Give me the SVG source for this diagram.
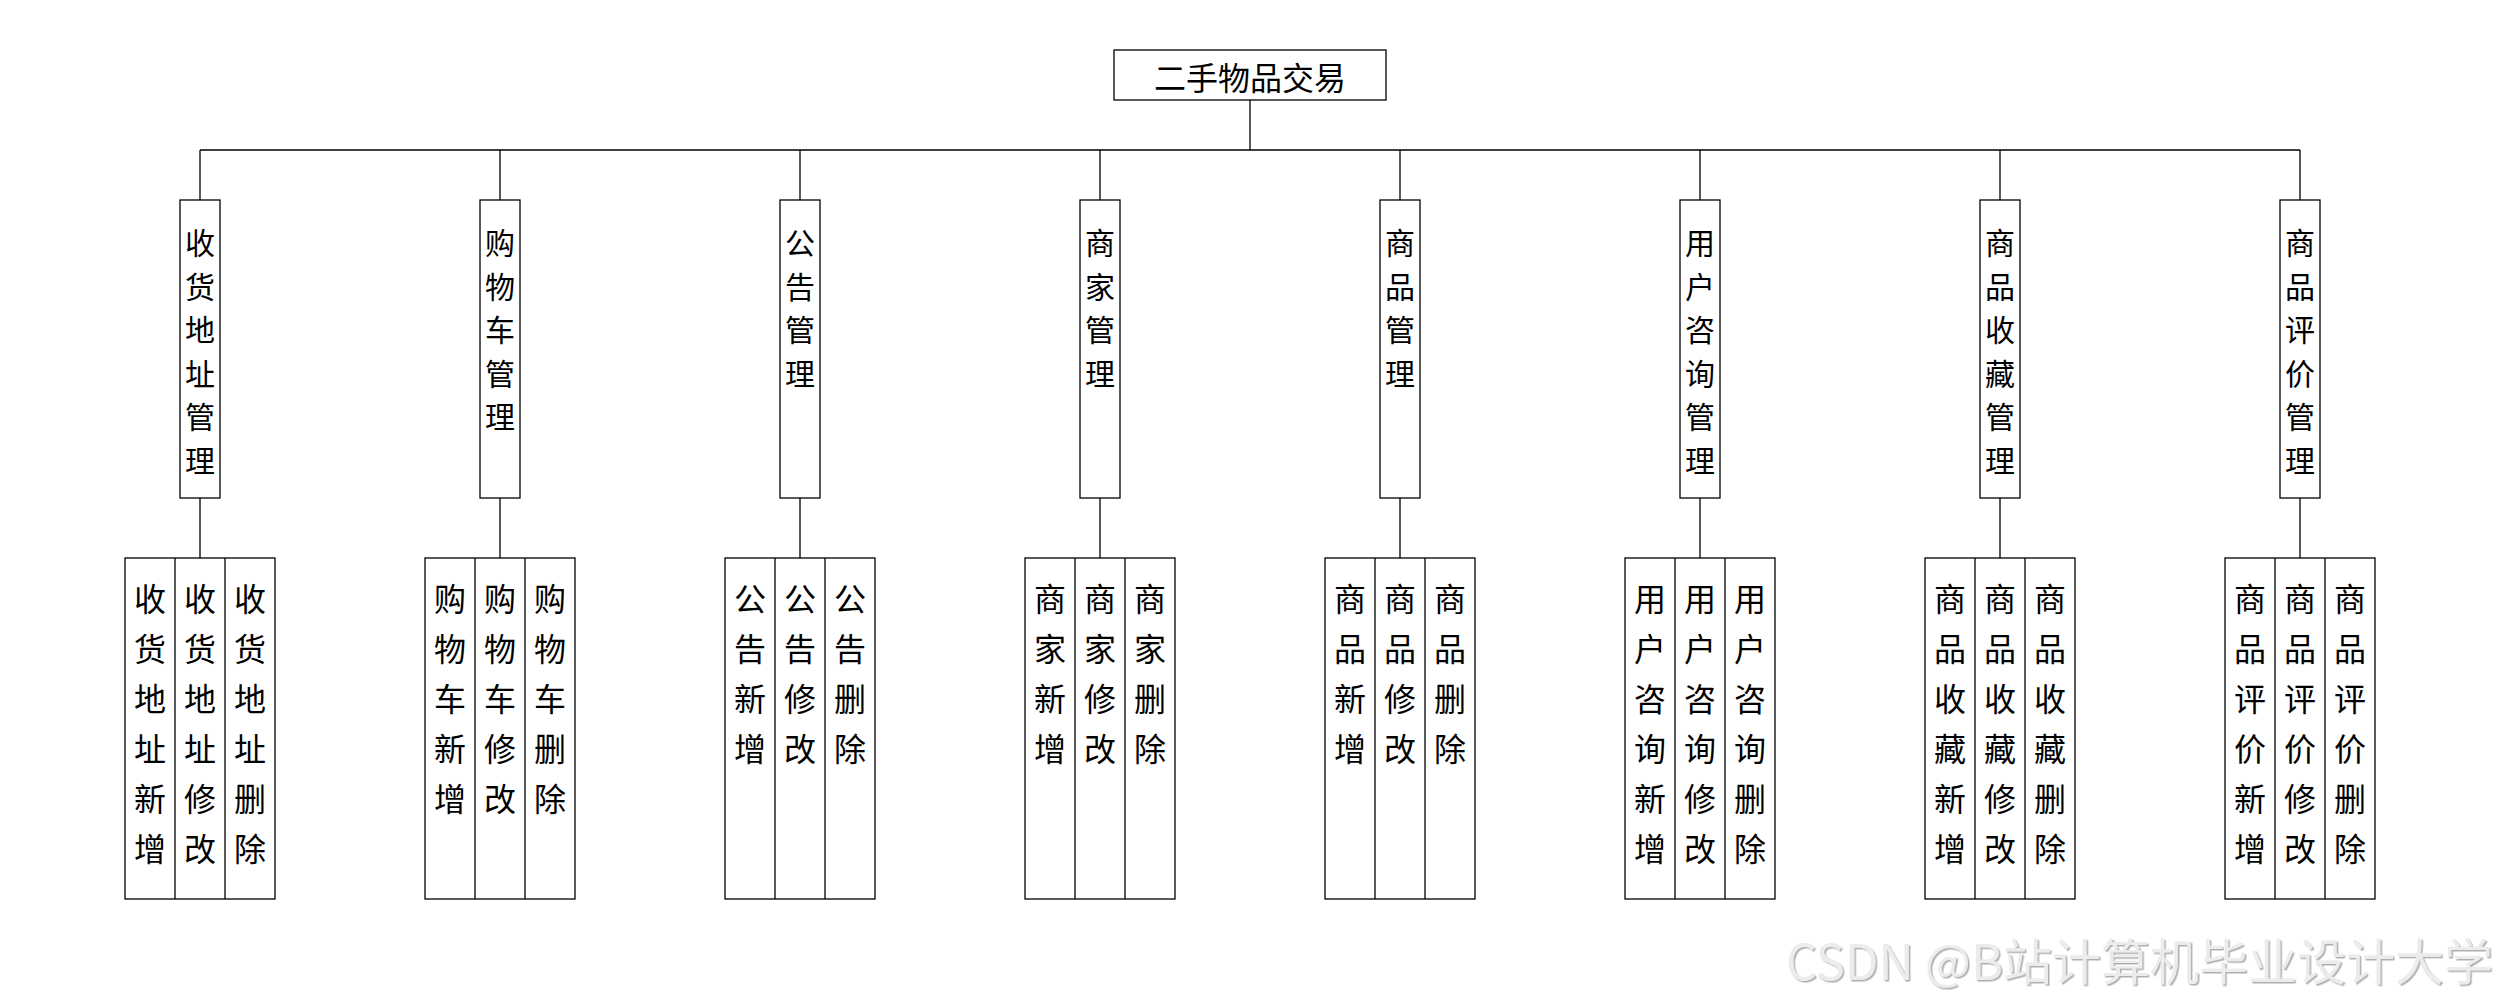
<svg xmlns="http://www.w3.org/2000/svg" width="2500" height="1000" viewBox="0 0 2500 1000">
<defs>
<style>
.box{fill:#fff;stroke:#000;stroke-width:1.3}
.ln{fill:none;stroke:#000;stroke-width:1.3}
.t{font-family:"Noto Sans CJK SC","Noto Sans",sans-serif;fill:#000;text-anchor:middle;dominant-baseline:central}
.root{font-size:32px}
.mid{font-size:30px}
.leaf{font-size:32px}
.wm{font-family:"Noto Sans CJK SC","Noto Sans",sans-serif;font-size:49px;fill:#ececec;filter:url(#sh)}
</style>
<filter id="sh" x="-5%" y="-30%" width="110%" height="160%">
<feDropShadow dx="1.5" dy="1.5" stdDeviation="0.6" flood-color="#9a9a9a" flood-opacity="0.8"/>
</filter>
</defs>
<rect width="2500" height="1000" fill="#fff"/>
<g id="connectors">
<path class="ln" d="M1250 100V150M200 150H2300M200 150V200M500 150V200M800 150V200M1100 150V200M1400 150V200M1700 150V200M2000 150V200M2300 150V200"/>
<path class="ln" d="M200 498V558M500 498V558M800 498V558M1100 498V558M1400 498V558M1700 498V558M2000 498V558M2300 498V558"/>
</g>
<g id="root">
<rect class="box" x="1114" y="50" width="272" height="50"/>
<text class="t root" x="1250" y="76">二手物品交易</text>
</g>
<g id="n1">
<rect class="box" x="180" y="200" width="40" height="298"/>
<text class="t mid" x="200" y="241"><tspan x="200">收</tspan><tspan x="200" dy="43.5">货</tspan><tspan x="200" dy="43.5">地</tspan><tspan x="200" dy="43.5">址</tspan><tspan x="200" dy="43.5">管</tspan><tspan x="200" dy="43.5">理</tspan></text>
</g>
<g id="n1-leaves">
<rect class="box" x="125" y="558" width="150" height="341"/>
<path class="ln" d="M175 558V899M225 558V899"/>
<text class="t leaf" x="150" y="597"><tspan x="150">收</tspan><tspan x="150" dy="50">货</tspan><tspan x="150" dy="50">地</tspan><tspan x="150" dy="50">址</tspan><tspan x="150" dy="50">新</tspan><tspan x="150" dy="50">增</tspan></text>
<text class="t leaf" x="200" y="597"><tspan x="200">收</tspan><tspan x="200" dy="50">货</tspan><tspan x="200" dy="50">地</tspan><tspan x="200" dy="50">址</tspan><tspan x="200" dy="50">修</tspan><tspan x="200" dy="50">改</tspan></text>
<text class="t leaf" x="250" y="597"><tspan x="250">收</tspan><tspan x="250" dy="50">货</tspan><tspan x="250" dy="50">地</tspan><tspan x="250" dy="50">址</tspan><tspan x="250" dy="50">删</tspan><tspan x="250" dy="50">除</tspan></text>
</g>
<g id="n2">
<rect class="box" x="480" y="200" width="40" height="298"/>
<text class="t mid" x="500" y="241"><tspan x="500">购</tspan><tspan x="500" dy="43.5">物</tspan><tspan x="500" dy="43.5">车</tspan><tspan x="500" dy="43.5">管</tspan><tspan x="500" dy="43.5">理</tspan></text>
</g>
<g id="n2-leaves">
<rect class="box" x="425" y="558" width="150" height="341"/>
<path class="ln" d="M475 558V899M525 558V899"/>
<text class="t leaf" x="450" y="597"><tspan x="450">购</tspan><tspan x="450" dy="50">物</tspan><tspan x="450" dy="50">车</tspan><tspan x="450" dy="50">新</tspan><tspan x="450" dy="50">增</tspan></text>
<text class="t leaf" x="500" y="597"><tspan x="500">购</tspan><tspan x="500" dy="50">物</tspan><tspan x="500" dy="50">车</tspan><tspan x="500" dy="50">修</tspan><tspan x="500" dy="50">改</tspan></text>
<text class="t leaf" x="550" y="597"><tspan x="550">购</tspan><tspan x="550" dy="50">物</tspan><tspan x="550" dy="50">车</tspan><tspan x="550" dy="50">删</tspan><tspan x="550" dy="50">除</tspan></text>
</g>
<g id="n3">
<rect class="box" x="780" y="200" width="40" height="298"/>
<text class="t mid" x="800" y="241"><tspan x="800">公</tspan><tspan x="800" dy="43.5">告</tspan><tspan x="800" dy="43.5">管</tspan><tspan x="800" dy="43.5">理</tspan></text>
</g>
<g id="n3-leaves">
<rect class="box" x="725" y="558" width="150" height="341"/>
<path class="ln" d="M775 558V899M825 558V899"/>
<text class="t leaf" x="750" y="597"><tspan x="750">公</tspan><tspan x="750" dy="50">告</tspan><tspan x="750" dy="50">新</tspan><tspan x="750" dy="50">增</tspan></text>
<text class="t leaf" x="800" y="597"><tspan x="800">公</tspan><tspan x="800" dy="50">告</tspan><tspan x="800" dy="50">修</tspan><tspan x="800" dy="50">改</tspan></text>
<text class="t leaf" x="850" y="597"><tspan x="850">公</tspan><tspan x="850" dy="50">告</tspan><tspan x="850" dy="50">删</tspan><tspan x="850" dy="50">除</tspan></text>
</g>
<g id="n4">
<rect class="box" x="1080" y="200" width="40" height="298"/>
<text class="t mid" x="1100" y="241"><tspan x="1100">商</tspan><tspan x="1100" dy="43.5">家</tspan><tspan x="1100" dy="43.5">管</tspan><tspan x="1100" dy="43.5">理</tspan></text>
</g>
<g id="n4-leaves">
<rect class="box" x="1025" y="558" width="150" height="341"/>
<path class="ln" d="M1075 558V899M1125 558V899"/>
<text class="t leaf" x="1050" y="597"><tspan x="1050">商</tspan><tspan x="1050" dy="50">家</tspan><tspan x="1050" dy="50">新</tspan><tspan x="1050" dy="50">增</tspan></text>
<text class="t leaf" x="1100" y="597"><tspan x="1100">商</tspan><tspan x="1100" dy="50">家</tspan><tspan x="1100" dy="50">修</tspan><tspan x="1100" dy="50">改</tspan></text>
<text class="t leaf" x="1150" y="597"><tspan x="1150">商</tspan><tspan x="1150" dy="50">家</tspan><tspan x="1150" dy="50">删</tspan><tspan x="1150" dy="50">除</tspan></text>
</g>
<g id="n5">
<rect class="box" x="1380" y="200" width="40" height="298"/>
<text class="t mid" x="1400" y="241"><tspan x="1400">商</tspan><tspan x="1400" dy="43.5">品</tspan><tspan x="1400" dy="43.5">管</tspan><tspan x="1400" dy="43.5">理</tspan></text>
</g>
<g id="n5-leaves">
<rect class="box" x="1325" y="558" width="150" height="341"/>
<path class="ln" d="M1375 558V899M1425 558V899"/>
<text class="t leaf" x="1350" y="597"><tspan x="1350">商</tspan><tspan x="1350" dy="50">品</tspan><tspan x="1350" dy="50">新</tspan><tspan x="1350" dy="50">增</tspan></text>
<text class="t leaf" x="1400" y="597"><tspan x="1400">商</tspan><tspan x="1400" dy="50">品</tspan><tspan x="1400" dy="50">修</tspan><tspan x="1400" dy="50">改</tspan></text>
<text class="t leaf" x="1450" y="597"><tspan x="1450">商</tspan><tspan x="1450" dy="50">品</tspan><tspan x="1450" dy="50">删</tspan><tspan x="1450" dy="50">除</tspan></text>
</g>
<g id="n6">
<rect class="box" x="1680" y="200" width="40" height="298"/>
<text class="t mid" x="1700" y="241"><tspan x="1700">用</tspan><tspan x="1700" dy="43.5">户</tspan><tspan x="1700" dy="43.5">咨</tspan><tspan x="1700" dy="43.5">询</tspan><tspan x="1700" dy="43.5">管</tspan><tspan x="1700" dy="43.5">理</tspan></text>
</g>
<g id="n6-leaves">
<rect class="box" x="1625" y="558" width="150" height="341"/>
<path class="ln" d="M1675 558V899M1725 558V899"/>
<text class="t leaf" x="1650" y="597"><tspan x="1650">用</tspan><tspan x="1650" dy="50">户</tspan><tspan x="1650" dy="50">咨</tspan><tspan x="1650" dy="50">询</tspan><tspan x="1650" dy="50">新</tspan><tspan x="1650" dy="50">增</tspan></text>
<text class="t leaf" x="1700" y="597"><tspan x="1700">用</tspan><tspan x="1700" dy="50">户</tspan><tspan x="1700" dy="50">咨</tspan><tspan x="1700" dy="50">询</tspan><tspan x="1700" dy="50">修</tspan><tspan x="1700" dy="50">改</tspan></text>
<text class="t leaf" x="1750" y="597"><tspan x="1750">用</tspan><tspan x="1750" dy="50">户</tspan><tspan x="1750" dy="50">咨</tspan><tspan x="1750" dy="50">询</tspan><tspan x="1750" dy="50">删</tspan><tspan x="1750" dy="50">除</tspan></text>
</g>
<g id="n7">
<rect class="box" x="1980" y="200" width="40" height="298"/>
<text class="t mid" x="2000" y="241"><tspan x="2000">商</tspan><tspan x="2000" dy="43.5">品</tspan><tspan x="2000" dy="43.5">收</tspan><tspan x="2000" dy="43.5">藏</tspan><tspan x="2000" dy="43.5">管</tspan><tspan x="2000" dy="43.5">理</tspan></text>
</g>
<g id="n7-leaves">
<rect class="box" x="1925" y="558" width="150" height="341"/>
<path class="ln" d="M1975 558V899M2025 558V899"/>
<text class="t leaf" x="1950" y="597"><tspan x="1950">商</tspan><tspan x="1950" dy="50">品</tspan><tspan x="1950" dy="50">收</tspan><tspan x="1950" dy="50">藏</tspan><tspan x="1950" dy="50">新</tspan><tspan x="1950" dy="50">增</tspan></text>
<text class="t leaf" x="2000" y="597"><tspan x="2000">商</tspan><tspan x="2000" dy="50">品</tspan><tspan x="2000" dy="50">收</tspan><tspan x="2000" dy="50">藏</tspan><tspan x="2000" dy="50">修</tspan><tspan x="2000" dy="50">改</tspan></text>
<text class="t leaf" x="2050" y="597"><tspan x="2050">商</tspan><tspan x="2050" dy="50">品</tspan><tspan x="2050" dy="50">收</tspan><tspan x="2050" dy="50">藏</tspan><tspan x="2050" dy="50">删</tspan><tspan x="2050" dy="50">除</tspan></text>
</g>
<g id="n8">
<rect class="box" x="2280" y="200" width="40" height="298"/>
<text class="t mid" x="2300" y="241"><tspan x="2300">商</tspan><tspan x="2300" dy="43.5">品</tspan><tspan x="2300" dy="43.5">评</tspan><tspan x="2300" dy="43.5">价</tspan><tspan x="2300" dy="43.5">管</tspan><tspan x="2300" dy="43.5">理</tspan></text>
</g>
<g id="n8-leaves">
<rect class="box" x="2225" y="558" width="150" height="341"/>
<path class="ln" d="M2275 558V899M2325 558V899"/>
<text class="t leaf" x="2250" y="597"><tspan x="2250">商</tspan><tspan x="2250" dy="50">品</tspan><tspan x="2250" dy="50">评</tspan><tspan x="2250" dy="50">价</tspan><tspan x="2250" dy="50">新</tspan><tspan x="2250" dy="50">增</tspan></text>
<text class="t leaf" x="2300" y="597"><tspan x="2300">商</tspan><tspan x="2300" dy="50">品</tspan><tspan x="2300" dy="50">评</tspan><tspan x="2300" dy="50">价</tspan><tspan x="2300" dy="50">修</tspan><tspan x="2300" dy="50">改</tspan></text>
<text class="t leaf" x="2350" y="597"><tspan x="2350">商</tspan><tspan x="2350" dy="50">品</tspan><tspan x="2350" dy="50">评</tspan><tspan x="2350" dy="50">价</tspan><tspan x="2350" dy="50">删</tspan><tspan x="2350" dy="50">除</tspan></text>
</g>
<g id="watermark">
<text class="wm" x="1786" y="980"><tspan textLength="217" lengthAdjust="spacingAndGlyphs">CSDN @B</tspan><tspan x="2003" textLength="490" lengthAdjust="spacingAndGlyphs">站计算机毕业设计大学</tspan></text>
</g>
</svg>
